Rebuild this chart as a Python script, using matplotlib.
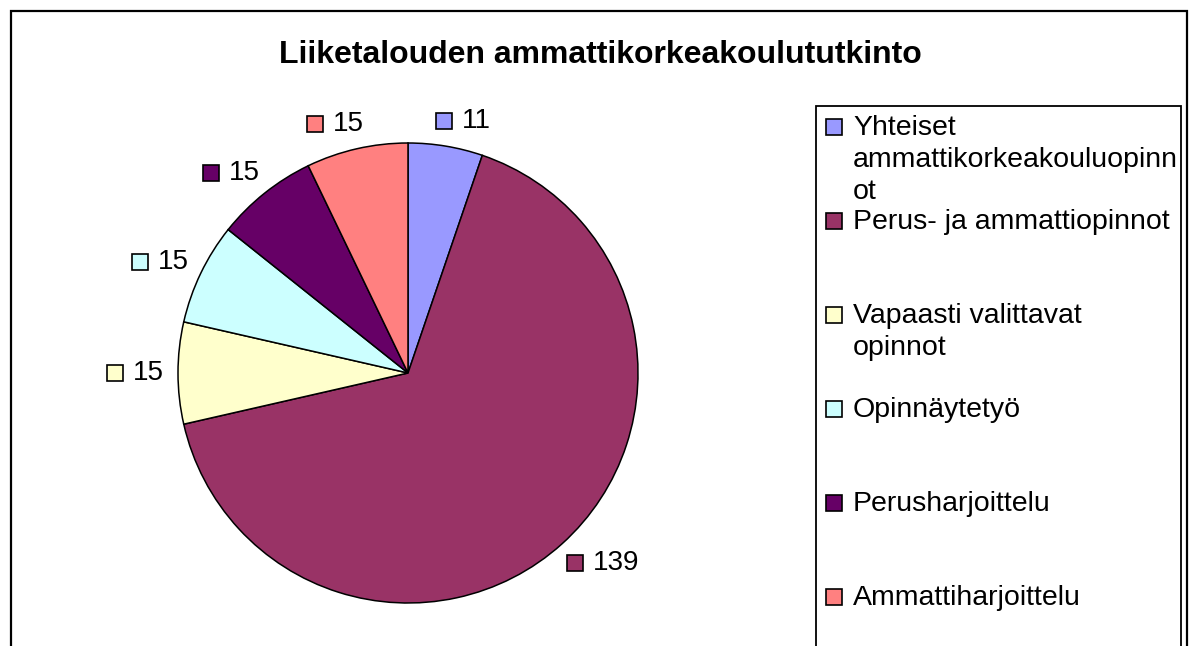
import matplotlib
matplotlib.use("Agg")
import matplotlib.pyplot as plt
import numpy as np
from matplotlib.patches import Rectangle
from matplotlib.offsetbox import AnnotationBbox, DrawingArea, HPacker, TextArea

plt.rcParams['font.family'] = ['Liberation Sans', 'DejaVu Sans']

title = "Liiketalouden ammattikorkeakoulututkinto"
categories = ["Yhteiset ammattikorkeakouluopinnot", "Perus- ja ammattiopinnot",
              "Vapaasti valittavat opinnot", "Opinnäytetyö", "Perusharjoittelu",
              "Ammattiharjoittelu"]
legend_labels = ["Yhteiset\nammattikorkeakouluopinn\not", "Perus- ja ammattiopinnot",
                 "Vapaasti valittavat\nopinnot", "Opinnäytetyö", "Perusharjoittelu",
                 "Ammattiharjoittelu"]
values = [11, 139, 15, 15, 15, 15]
colors = ["#9999FF", "#993366", "#FFFFCC", "#CCFFFF", "#660066", "#FF8080"]

W, H = 1194, 646
fig = plt.figure(figsize=(W / 100, H / 100), dpi=100)

def fx(px):
    return px / W

def fy(py):
    return 1 - py / H

# outer chart frame (runs off the bottom)
fig.patches.append(Rectangle((fx(11), fy(700)), fx(1176), 689 / H, transform=fig.transFigure,
                             fill=False, edgecolor='black', linewidth=1.6))

fig.text(fx(600), fy(55), title, ha='center', va='center', fontsize=23, fontweight='bold')

# pie
cx, cy, r = 408, 373, 230
ax = fig.add_axes([fx(cx - r), fy(cy + r), 2 * r / W, 2 * r / H])
wedges, _ = ax.pie(values, colors=colors, startangle=90, counterclock=False, radius=1,
                   wedgeprops=dict(edgecolor='black', linewidth=1.1))
ax.set_xlim(-1, 1)
ax.set_ylim(-1, 1)
ax.set_aspect('equal')
ax.axis('off')

# value labels with a small colour key, placed just outside each slice
box_pt = 16 * 72 / 100
for w, v, c in zip(wedges, values, colors):
    theta = np.deg2rad(90 - (w.theta1 + w.theta2) / 2)  # clockwise from top
    s, co = np.sin(theta), np.cos(theta)
    da = DrawingArea(box_pt, box_pt, 0, 0)
    da.add_artist(Rectangle((0, 0), box_pt, box_pt, facecolor=c, edgecolor='black', linewidth=1.2))
    ta = TextArea(str(v), textprops=dict(fontsize=20))
    pack = HPacker(children=[da, ta], align='center', pad=0, sep=7)
    rr = 1.06
    hx = np.sign(s) * abs(s) ** 0.3
    ab = AnnotationBbox(pack, (rr * s, rr * co), xycoords='data', frameon=False,
                        box_alignment=(0.5 - 0.5 * hx, 0.5 - 0.45 * co), annotation_clip=False)
    ax.add_artist(ab)

# legend box (runs off the bottom)
fig.patches.append(Rectangle((fx(816), fy(700)), fx(365), 594 / H, transform=fig.transFigure,
                             fill=False, edgecolor='black', linewidth=1.3))
for i, (lab, c) in enumerate(zip(legend_labels, colors)):
    base = 135 + i * 94
    fig.patches.append(Rectangle((fx(826), fy(base)), fx(16), 16 / H, transform=fig.transFigure,
                                 facecolor=c, edgecolor='black', linewidth=1.2))
    for j, line in enumerate(lab.split("\n")):
        fig.text(fx(853), fy(base + j * 32), line, ha='left', va='baseline', fontsize=20.5)

fig.savefig("out.png", dpi=100)
